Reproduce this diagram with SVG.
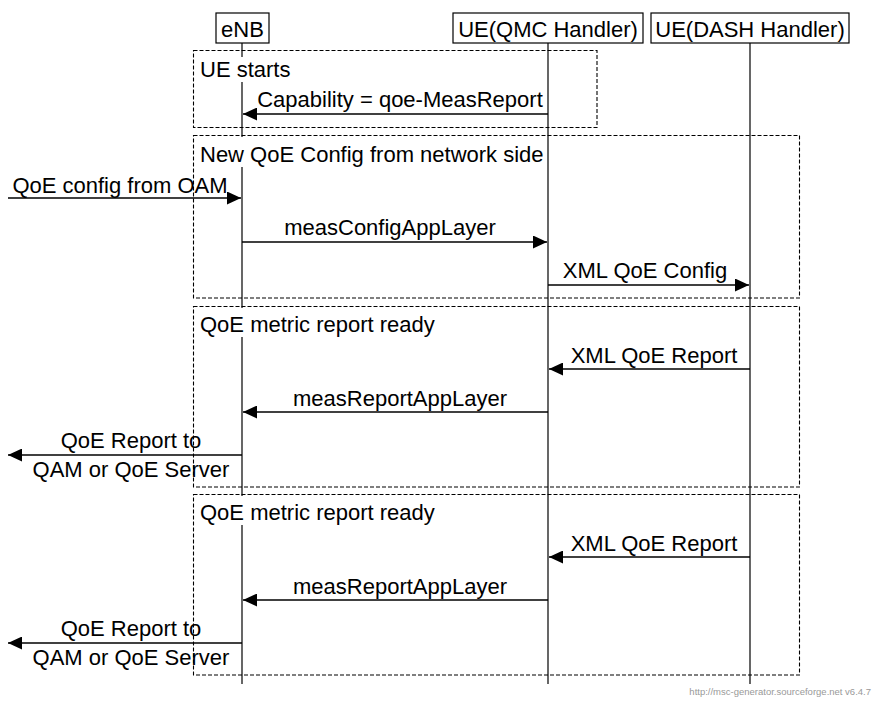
<svg xmlns="http://www.w3.org/2000/svg" width="874" height="702" viewBox="0 0 874 702">
<style>
text{font-family:"Liberation Sans",Arial,sans-serif;font-size:22px;fill:#000}
.hdr{fill:#fff;stroke:#000;stroke-width:1.2}
.life{stroke:#000;stroke-width:1.2}
.box{fill:none;stroke:#000;stroke-width:1.1;stroke-dasharray:4 2}
.lbg{fill:#fff;stroke:none}
.msg{stroke:#000;stroke-width:1.3;fill:none}
.mid{text-anchor:middle}
.foot{font-size:9.5px;fill:#999;text-anchor:end}
</style>
<defs>
<marker id="ah" markerUnits="userSpaceOnUse" markerWidth="15" markerHeight="13" refX="14" refY="6.5" orient="auto">
<path d="M0,0 L14,6.5 L0,13 Z" fill="#000"/>
</marker>
</defs>
<g id="eNB">
<rect class="hdr" x="216" y="13" width="53" height="30"/>
<text class="mid" x="242.5" y="37">eNB</text>
<line class="life" x1="242" y1="43" x2="242" y2="684"/>
</g>
<g id="UE_QMC">
<rect class="hdr" x="453" y="13" width="190" height="30"/>
<text class="mid" x="548" y="37">UE(QMC Handler)</text>
<line class="life" x1="548" y1="43" x2="548" y2="684"/>
</g>
<g id="UE_DASH">
<rect class="hdr" x="651" y="13" width="198" height="30"/>
<text class="mid" x="750" y="37">UE(DASH Handler)</text>
<line class="life" x1="750" y1="43" x2="750" y2="684"/>
</g>
<g id="box1">
<rect class="box" x="193.5" y="50.5" width="403.5" height="77"/>
<rect class="lbg" x="196" y="57" width="98" height="25"/>
<text x="200" y="77">UE starts</text>
</g>
<g id="box2">
<rect class="box" x="193.5" y="135.5" width="606" height="162.5"/>
<rect class="lbg" x="196" y="137" width="349" height="30"/>
<text x="200" y="162">New QoE Config from network side</text>
</g>
<g id="box3">
<rect class="box" x="193.5" y="306.5" width="606" height="180.5"/>
<rect class="lbg" x="196" y="308" width="240" height="29"/>
<text x="200" y="332">QoE metric report ready</text>
</g>
<g id="box4">
<rect class="box" x="193.5" y="494.5" width="606" height="180.5"/>
<rect class="lbg" x="196" y="496" width="240" height="29"/>
<text x="200" y="520">QoE metric report ready</text>
</g>
<g id="connectors">
<line class="msg" x1="548" y1="114" x2="243" y2="114" marker-end="url(#ah)"/>
<text class="mid" x="400" y="107">Capability = qoe-MeasReport</text>
<line class="msg" x1="8" y1="198" x2="241" y2="198" marker-end="url(#ah)"/>
<text class="mid" x="120" y="193">QoE config from OAM</text>
<line class="msg" x1="242" y1="242" x2="547" y2="242" marker-end="url(#ah)"/>
<text class="mid" x="390" y="235">measConfigAppLayer</text>
<line class="msg" x1="548" y1="285" x2="749" y2="285" marker-end="url(#ah)"/>
<text class="mid" x="645" y="278">XML QoE Config</text>
<line class="msg" x1="750" y1="369" x2="549" y2="369" marker-end="url(#ah)"/>
<text class="mid" x="654" y="363">XML QoE Report</text>
<line class="msg" x1="548" y1="412" x2="243" y2="412" marker-end="url(#ah)"/>
<text class="mid" x="400" y="406">measReportAppLayer</text>
<line class="msg" x1="242" y1="455" x2="8" y2="455" marker-end="url(#ah)"/>
<text class="mid" x="131" y="448">QoE Report to</text>
<text class="mid" x="131" y="477">QAM or QoE Server</text>
<line class="msg" x1="750" y1="557" x2="549" y2="557" marker-end="url(#ah)"/>
<text class="mid" x="654" y="551">XML QoE Report</text>
<line class="msg" x1="548" y1="600" x2="243" y2="600" marker-end="url(#ah)"/>
<text class="mid" x="400" y="594">measReportAppLayer</text>
<line class="msg" x1="242" y1="643" x2="8" y2="643" marker-end="url(#ah)"/>
<text class="mid" x="131" y="636">QoE Report to</text>
<text class="mid" x="131" y="665">QAM or QoE Server</text>
</g>
<text class="foot" x="871" y="695">http://msc-generator.sourceforge.net v6.4.7</text>
</svg>
